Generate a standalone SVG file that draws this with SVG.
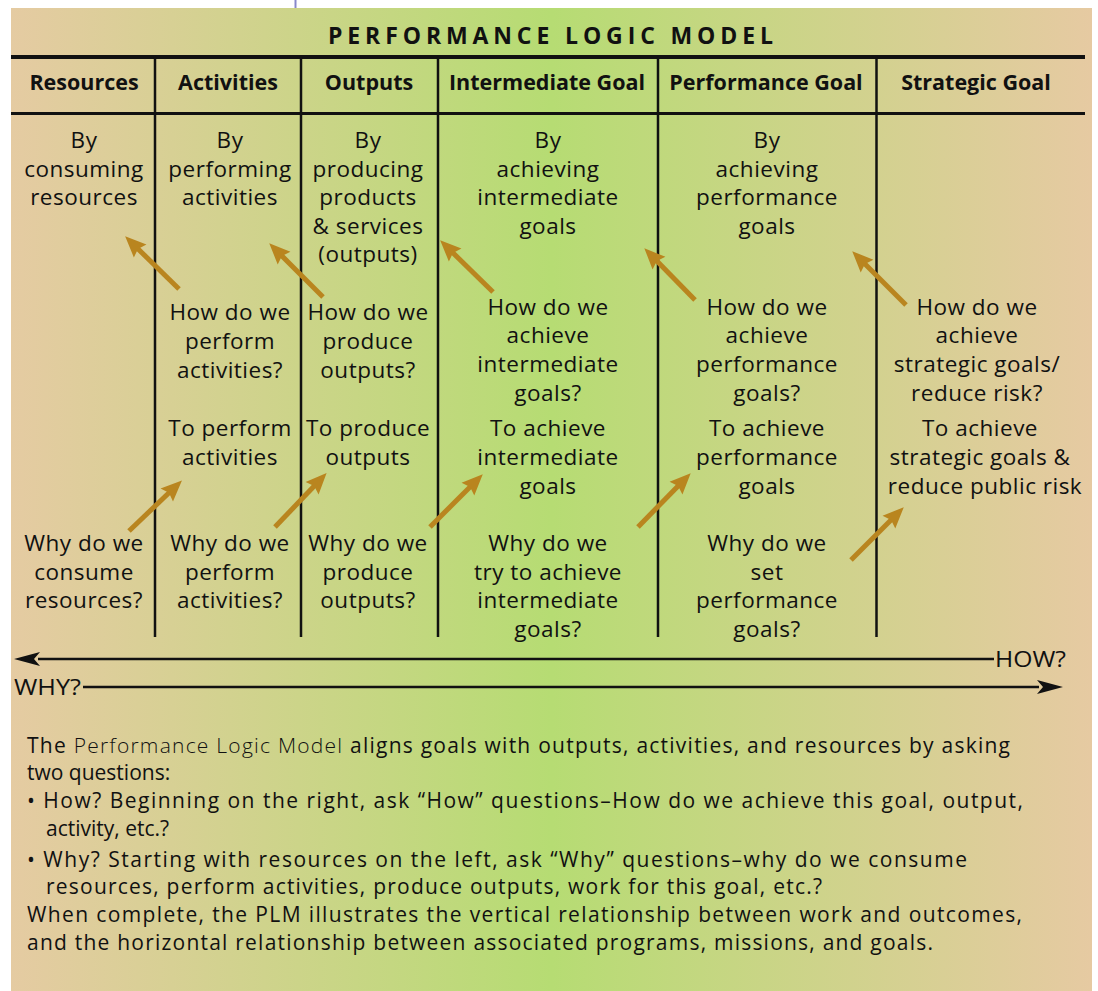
<svg xmlns="http://www.w3.org/2000/svg" width="1098" height="991" viewBox="0 0 1098 991">
<defs>
<linearGradient id="bg" x1="11" y1="0" x2="1092" y2="0" gradientUnits="userSpaceOnUse">
<stop offset="0" stop-color="#e5cba2"/>
<stop offset="0.5" stop-color="#b6dc73"/>
<stop offset="1" stop-color="#e6caa2"/>
</linearGradient>
<marker id="gold" markerUnits="userSpaceOnUse" markerWidth="24" markerHeight="20" refX="10" refY="9" orient="auto" overflow="visible">
<path d="M0,0 L21,9 L0,18 L3,9 z" fill="#b9851f"/>
</marker>
<marker id="blk" markerUnits="userSpaceOnUse" markerWidth="28" markerHeight="16" refX="2" refY="7" orient="auto" overflow="visible">
<path d="M0,0 L26,7 L0,14 L6,7 z" fill="#111"/>
</marker>
</defs>
<style>
text{font-family:"Open Sans","DejaVu Sans",sans-serif;fill:#111}
.t{font-size:22.5px;text-anchor:middle;letter-spacing:0.5px}
.h{font-size:21.5px;font-weight:bold;text-anchor:middle}
.title{font-size:23px;font-weight:bold}
.p{font-size:21px}
.hw{font-size:21px}
.rule{stroke:#111;fill:none}
.ga{stroke:#b9851f;stroke-width:5;marker-end:url(#gold)}
.ba{stroke:#111;stroke-width:2.5;marker-end:url(#blk)}
</style>
<line x1="295.5" y1="0" x2="295.5" y2="8" stroke="#8888cc" stroke-width="2"/>
<rect x="11" y="8" width="1081" height="983" fill="url(#bg)"/>
<g id="title"><text class="title" x="328" y="44" textLength="445" lengthAdjust="spacing">PERFORMANCE LOGIC MODEL</text></g>
<g id="grid">
<line class="rule" x1="11" y1="57" x2="1085" y2="57" stroke-width="4"/>
<line class="rule" x1="11" y1="113.5" x2="1085" y2="113.5" stroke-width="3"/>
<line class="rule" x1="155" y1="57" x2="155" y2="637" stroke-width="2.5"/>
<line class="rule" x1="301" y1="57" x2="301" y2="637" stroke-width="2.5"/>
<line class="rule" x1="438" y1="57" x2="438" y2="637" stroke-width="2.5"/>
<line class="rule" x1="658" y1="57" x2="658" y2="637" stroke-width="2.5"/>
<line class="rule" x1="876.5" y1="57" x2="876.5" y2="637" stroke-width="2.5"/>
</g>
<g id="headers">
<text class="h" x="84" y="90">Resources</text>
<text class="h" x="228" y="90">Activities</text>
<text class="h" x="369" y="90">Outputs</text>
<text class="h" x="547" y="90">Intermediate Goal</text>
<text class="h" x="766" y="90">Performance Goal</text>
<text class="h" x="976" y="90">Strategic Goal</text>
</g>
<g id="by-resources"><text class="t" x="84" y="148">By</text><text class="t" x="84" y="177">consuming</text><text class="t" x="84" y="205">resources</text></g>
<g id="by-activities"><text class="t" x="230" y="148">By</text><text class="t" x="230" y="177">performing</text><text class="t" x="230" y="205">activities</text></g>
<g id="by-outputs"><text class="t" x="368" y="148">By</text><text class="t" x="368" y="177">producing</text><text class="t" x="368" y="205">products</text><text class="t" x="368" y="234">&amp; services</text><text class="t" x="368" y="262">(outputs)</text></g>
<g id="by-intermediate"><text class="t" x="548" y="148">By</text><text class="t" x="548" y="177">achieving</text><text class="t" x="548" y="205">intermediate</text><text class="t" x="548" y="234">goals</text></g>
<g id="by-performance"><text class="t" x="767" y="148">By</text><text class="t" x="767" y="177">achieving</text><text class="t" x="767" y="205">performance</text><text class="t" x="767" y="234">goals</text></g>
<g id="how-activities"><text class="t" x="230" y="320">How do we</text><text class="t" x="230" y="349">perform</text><text class="t" x="230" y="378">activities?</text></g>
<g id="how-outputs"><text class="t" x="368" y="320">How do we</text><text class="t" x="368" y="349">produce</text><text class="t" x="368" y="378">outputs?</text></g>
<g id="how-intermediate"><text class="t" x="548" y="315">How do we</text><text class="t" x="548" y="343">achieve</text><text class="t" x="548" y="372">intermediate</text><text class="t" x="548" y="401">goals?</text></g>
<g id="how-performance"><text class="t" x="767" y="315">How do we</text><text class="t" x="767" y="343">achieve</text><text class="t" x="767" y="372">performance</text><text class="t" x="767" y="401">goals?</text></g>
<g id="how-strategic"><text class="t" x="977" y="315">How do we</text><text class="t" x="977" y="343">achieve</text><text class="t" x="977" y="372">strategic goals/</text><text class="t" x="977" y="401">reduce risk?</text></g>
<g id="to-activities"><text class="t" x="230" y="436">To perform</text><text class="t" x="230" y="465">activities</text></g>
<g id="to-outputs"><text class="t" x="368" y="436">To produce</text><text class="t" x="368" y="465">outputs</text></g>
<g id="to-intermediate"><text class="t" x="548" y="436">To achieve</text><text class="t" x="548" y="465">intermediate</text><text class="t" x="548" y="494">goals</text></g>
<g id="to-performance"><text class="t" x="767" y="436">To achieve</text><text class="t" x="767" y="465">performance</text><text class="t" x="767" y="494">goals</text></g>
<g id="to-strategic"><text class="t" x="980" y="436">To achieve</text><text class="t" x="980" y="465">strategic goals &amp;</text><text class="t" x="985" y="494">reduce public risk</text></g>
<g id="why-resources"><text class="t" x="84" y="551">Why do we</text><text class="t" x="84" y="580">consume</text><text class="t" x="84" y="608">resources?</text></g>
<g id="why-activities"><text class="t" x="230" y="551">Why do we</text><text class="t" x="230" y="580">perform</text><text class="t" x="230" y="608">activities?</text></g>
<g id="why-outputs"><text class="t" x="368" y="551">Why do we</text><text class="t" x="368" y="580">produce</text><text class="t" x="368" y="608">outputs?</text></g>
<g id="why-intermediate"><text class="t" x="548" y="551">Why do we</text><text class="t" x="548" y="580">try to achieve</text><text class="t" x="548" y="608">intermediate</text><text class="t" x="548" y="637">goals?</text></g>
<g id="why-performance"><text class="t" x="767" y="551">Why do we</text><text class="t" x="767" y="580">set</text><text class="t" x="767" y="608">performance</text><text class="t" x="767" y="637">goals?</text></g>
<g id="connectors">
<line class="ga" x1="179" y1="289" x2="133" y2="244"/>
<line class="ga" x1="323" y1="297" x2="277" y2="251"/>
<line class="ga" x1="493" y1="292" x2="448" y2="248"/>
<line class="ga" x1="695" y1="300" x2="652" y2="256"/>
<line class="ga" x1="906" y1="305" x2="860" y2="259"/>
<line class="ga" x1="129" y1="531" x2="174" y2="488"/>
<line class="ga" x1="275" y1="527" x2="319" y2="481"/>
<line class="ga" x1="430" y1="527" x2="475" y2="482"/>
<line class="ga" x1="638" y1="527" x2="683" y2="481"/>
<line class="ga" x1="851" y1="560" x2="896" y2="515"/>
<line class="ba" x1="994" y1="659" x2="38" y2="659"/>
<line class="ba" x1="83" y1="687" x2="1039" y2="687"/>
</g>
<g id="how-label"><text class="hw" x="995" y="667" textLength="71" lengthAdjust="spacingAndGlyphs">HOW?</text></g>
<g id="why-label"><text class="hw" x="14" y="695" textLength="67" lengthAdjust="spacingAndGlyphs">WHY?</text></g>
<g id="description">
<text class="p" x="27" y="753" textLength="983" lengthAdjust="spacing">The <tspan font-weight="300">Performance Logic Model</tspan> aligns goals with outputs, activities, and resources by asking</text>
<text class="p" x="27" y="780">two questions:</text>
<text class="p" x="27" y="808" textLength="996" lengthAdjust="spacing">• How? Beginning on the right, ask “How” questions–How do we achieve this goal, output,</text>
<text class="p" x="46" y="836">activity, etc.?</text>
<text class="p" x="27" y="867" textLength="940" lengthAdjust="spacing">• Why? Starting with resources on the left, ask “Why” questions–why do we consume</text>
<text class="p" x="46" y="894" textLength="776" lengthAdjust="spacing">resources, perform activities, produce outputs, work for this goal, etc.?</text>
<text class="p" x="27" y="922" textLength="995" lengthAdjust="spacing">When complete, the PLM illustrates the vertical relationship between work and outcomes,</text>
<text class="p" x="27" y="950" textLength="906" lengthAdjust="spacing">and the horizontal relationship between associated programs, missions, and goals.</text>
</g>
</svg>
